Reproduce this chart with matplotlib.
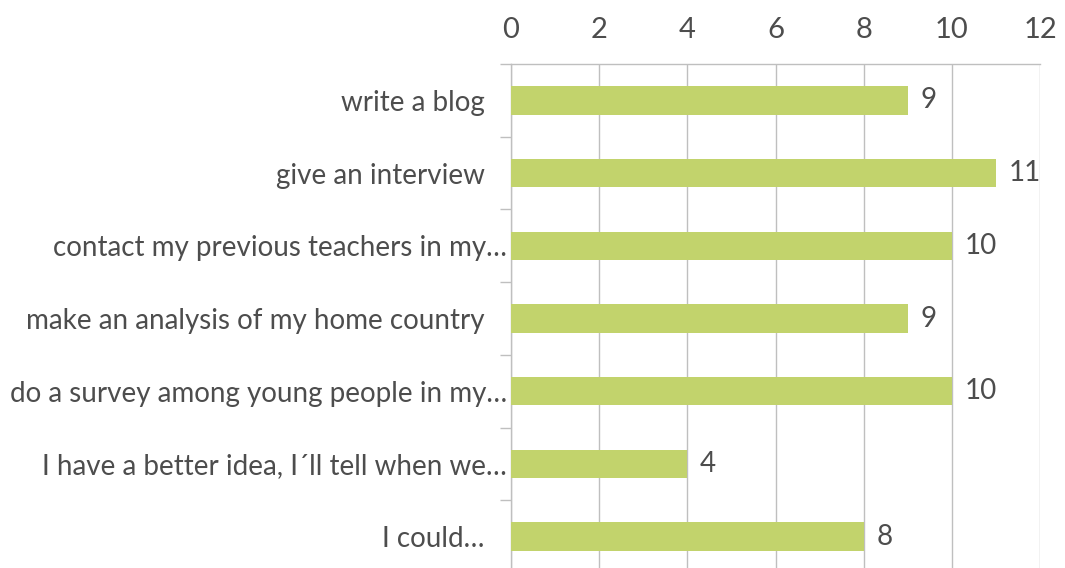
import matplotlib.pyplot as plt
import numpy as np
from matplotlib.transforms import offset_copy

plt.rcParams["font.family"] = ["Lato", "DejaVu Sans"]

# a trailing space marks labels that keep extra room before the axis
answers = [
    "write a blog ",
    "give an interview ",
    "contact my previous teachers in my…",
    "make an analysis of my home country ",
    "do a survey among young people in my…",
    "I have a better idea, I´ll tell when we…",
    "I could… ",
]
votes = [9, 11, 10, 9, 10, 4, 8]
x_ticks = [0, 2, 4, 6, 8, 10, 12]

bar_color = "#C2D36C"
grid_color = "#BFBFBF"
text_color = "#4D4D4D"

fig = plt.figure(figsize=(10.65, 5.68), dpi=100)
ax = fig.add_axes([511 / 1065, -5 / 568, 529 / 1065, 509 / 568])

y = np.arange(len(answers))
ax.barh(y, votes, height=0.39, color=bar_color, zorder=3)
for yi, v in zip(y, votes):
    ax.annotate(str(v), (v, yi), xytext=(9, 0), textcoords="offset points",
                va="center", ha="left", fontsize=20, color=text_color)

ax.set_xlim(0, 12)
ax.set_ylim(len(answers) - 0.5, -0.5)
ax.set_xticks(x_ticks)
ax.xaxis.tick_top()
ax.tick_params(axis="x", length=0, labelsize=21, labelcolor=text_color, pad=15)
ax.grid(axis="x", color=grid_color, linewidth=1, zorder=0)

# category labels sit between boundary ticks
ax.set_yticks(y)
ax.set_yticklabels([a.rstrip() for a in answers])
ax.set_yticks(np.arange(len(answers) + 1) - 0.5, minor=True)
ax.tick_params(axis="y", which="major", length=0, labelsize=20,
               labelcolor=text_color, pad=3)
ax.tick_params(axis="y", which="minor", length=8, width=1, color=grid_color)

for lab, text in zip(ax.get_yticklabels(), answers):
    if text.endswith(" "):
        lab.set_transform(offset_copy(lab.get_transform(), fig=fig, x=-22,
                                      units="dots"))

for side in ["right", "bottom"]:
    ax.spines[side].set_visible(False)
for side in ["left", "top"]:
    ax.spines[side].set_color(grid_color)
    ax.spines[side].set_linewidth(1)

fig.savefig("out.png", dpi=100)
